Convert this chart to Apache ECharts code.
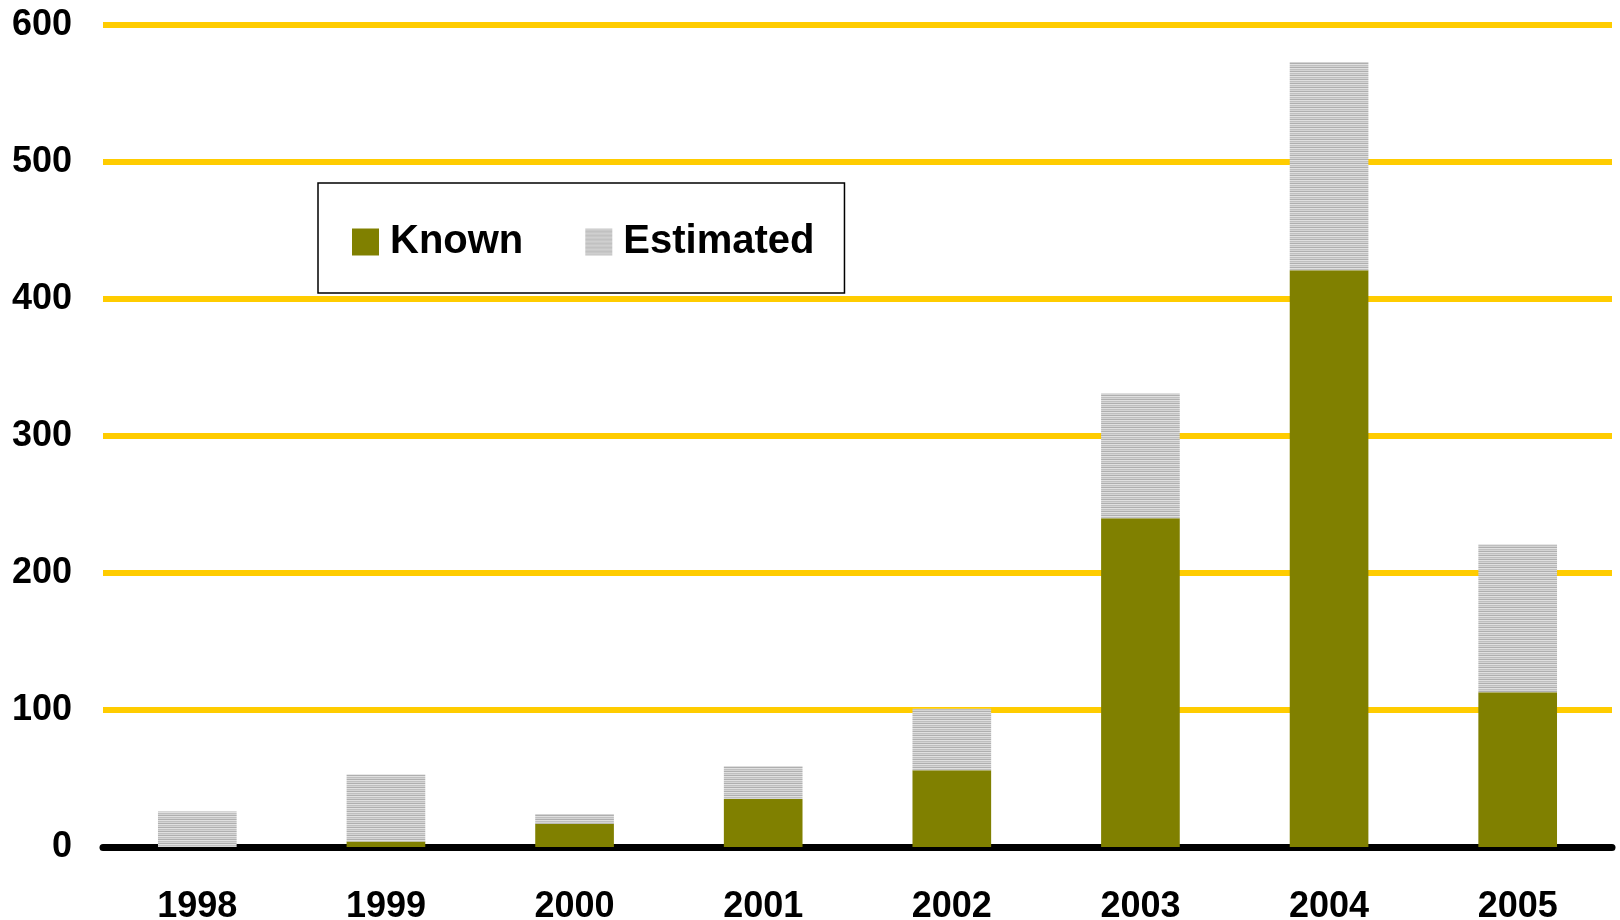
<!DOCTYPE html>
<html>
<head>
<meta charset="utf-8">
<title>Known and estimated counts, 1998–2005</title>
<script src="https://cdn.jsdelivr.net/npm/echarts@6/dist/echarts.min.js"></script>
<style>
  html, body { margin: 0; padding: 0; background: #ffffff; }
  #chart { width: 1620px; height: 920px; }
</style>
</head>
<body>
<div id="chart"></div>
<script>
// Years on the category axis
const years = ['1998', '1999', '2000', '2001', '2002', '2003', '2004', '2005'];
// Confirmed counts (bottom segment)
const known = [0, 4, 17, 35, 56, 240, 421, 113];
// Estimated additional counts (top segment)
const estimated = [26, 49, 7, 24, 45, 91, 152, 108];
// Value axis range
const yMin = 0, yMax = 600, yStep = 100;

// Horizontal hatch fill used for the estimated segments
function stripeCanvas() {
  const rows = ['#e0e0e0', '#bfbfbf', '#d4d4d4', '#afafaf'];
  const c = document.createElement('canvas');
  c.width = 4; c.height = rows.length;
  const ctx = c.getContext('2d');
  rows.forEach((col, i) => { ctx.fillStyle = col; ctx.fillRect(0, i, 4, 1); });
  return c;
}
const stripes = { image: stripeCanvas(), repeat: 'repeat' };

const font = 'Liberation Sans, Arial, Helvetica, sans-serif';
const chart = echarts.init(document.getElementById('chart'), null, { renderer: 'canvas' });

chart.setOption({
  animation: false,
  backgroundColor: '#ffffff',
  grid: { left: 103, right: 8, top: 25, bottom: 73, containLabel: false, outerBoundsMode: 'none' },
  legend: {
    left: 318,
    top: 183,
    orient: 'horizontal',
    icon: 'rect',
    itemWidth: 27,
    itemHeight: 27,
    itemGap: 62,
    padding: [39, 30, 31, 34],
    borderColor: '#000000',
    borderWidth: 1.5,
    backgroundColor: '#ffffff',
    textStyle: { fontFamily: font, fontSize: 40, fontWeight: 'bold', color: '#000000', padding: [0, 0, 0, 6] },
    data: [
      { name: 'Known', itemStyle: { color: '#808000' } },
      { name: 'Estimated', itemStyle: { color: stripes } }
    ]
  },
  xAxis: {
    type: 'category',
    data: years,
    axisLine: { show: true, lineStyle: { color: '#000000', width: 7, cap: 'round' } },
    axisTick: { show: false },
    axisLabel: { fontFamily: font, fontSize: 36, fontWeight: 'bold', color: '#000000', margin: 42 },
    splitLine: { show: false }
  },
  yAxis: {
    type: 'value',
    min: yMin,
    max: yMax,
    interval: yStep,
    axisLine: { show: false },
    axisTick: { show: false },
    axisLabel: { fontFamily: font, fontSize: 36, fontWeight: 'bold', color: '#000000', margin: 31 },
    splitLine: { show: true, lineStyle: { color: '#ffcc00', width: 6 } }
  },
  series: [
    {
      name: 'Known',
      type: 'bar',
      stack: 'total',
      data: known,
      barWidth: '41.7%',
      itemStyle: { color: '#808000' },
      z: 1
    },
    {
      name: 'Estimated',
      type: 'bar',
      stack: 'total',
      data: estimated,
      barWidth: '41.7%',
      itemStyle: { color: stripes },
      z: 1
    }
  ]
});
</script>
</body>
</html>
